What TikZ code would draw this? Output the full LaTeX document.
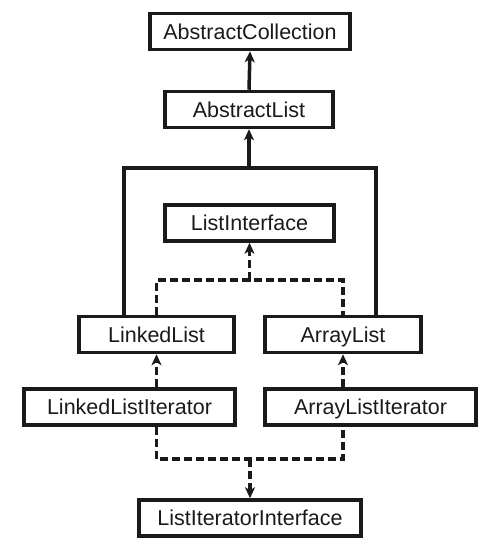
\documentclass[tikz,border=0pt]{standalone}
\usepackage{fontspec}
\setmainfont{Liberation Sans}
\usetikzlibrary{arrows.meta}
\definecolor{ink}{HTML}{1A1A1A}

\begin{document}
\begin{tikzpicture}[x=1pt, y=-1pt,
    classbox/.style={draw=ink, line width=3.5pt, minimum height=36pt, inner sep=0pt,
      text height=15.4pt, text depth=0pt, font=\fontsize{21.5}{25}\selectfont, text=ink},
    extends/.style={draw=ink, line width=3.5pt, -{Stealth[length=11pt, width=10pt, inset=3pt]}},
    solidlink/.style={draw=ink, line width=3.5pt},
    implements/.style={draw=ink, line width=3.5pt, dash pattern=on 8pt off 4pt, -{Stealth[length=11pt, width=10pt, inset=3pt]}},
    dashlink/.style={draw=ink, line width=3.5pt, dash pattern=on 8pt off 4pt}]
  \useasboundingbox (0,0) rectangle (487,549);
  \node[classbox, minimum width=200pt] (acoll) at (250,31.5) {AbstractCollection};
  \node[classbox, minimum width=168pt] (alist) at (249,109.5) {AbstractList};
  \node[classbox, minimum width=169pt] (lint) at (249.5,223) {ListInterface};
  \node[classbox, minimum width=155pt] (llist) at (156.5,334.5) {LinkedList};
  \node[classbox, minimum width=156pt] (arlist) at (343,334.5) {ArrayList};
  \node[classbox, minimum width=211pt] (lliter) at (129.5,407) {LinkedListIterator};
  \node[classbox, minimum width=211pt] (aliter) at (370.5,407) {ArrayListIterator};
  \node[classbox, minimum width=222pt] (liint) at (250,518) {ListIteratorInterface};
  \coordinate (jtop) at (249,168);
  \coordinate (jmid) at (249.5,280);
  \coordinate (jbot) at (250,459);
  % class inheritance
  \draw[extends] (alist.north) -- (acoll.south);
  \draw[solidlink] ([xshift=-32.5pt]llist.north) |- (jtop) -| ([xshift=33pt]arlist.north);
  \draw[extends] (jtop) -- (alist.south);
  % interfaces
  \draw[dashlink] (llist.north) |- (jmid) -| (arlist.north);
  \draw[implements] (jmid) -- (lint.south);
  \draw[implements] (llist.south |- lliter.north) -- (llist.south);
  \draw[implements] (arlist.south |- aliter.north) -- (arlist.south);
  \draw[dashlink] (llist.south |- lliter.south) |- (jbot) -| (arlist.south |- aliter.south);
  \draw[implements] (jbot) -- (liint.north);
\end{tikzpicture}
\end{document}
